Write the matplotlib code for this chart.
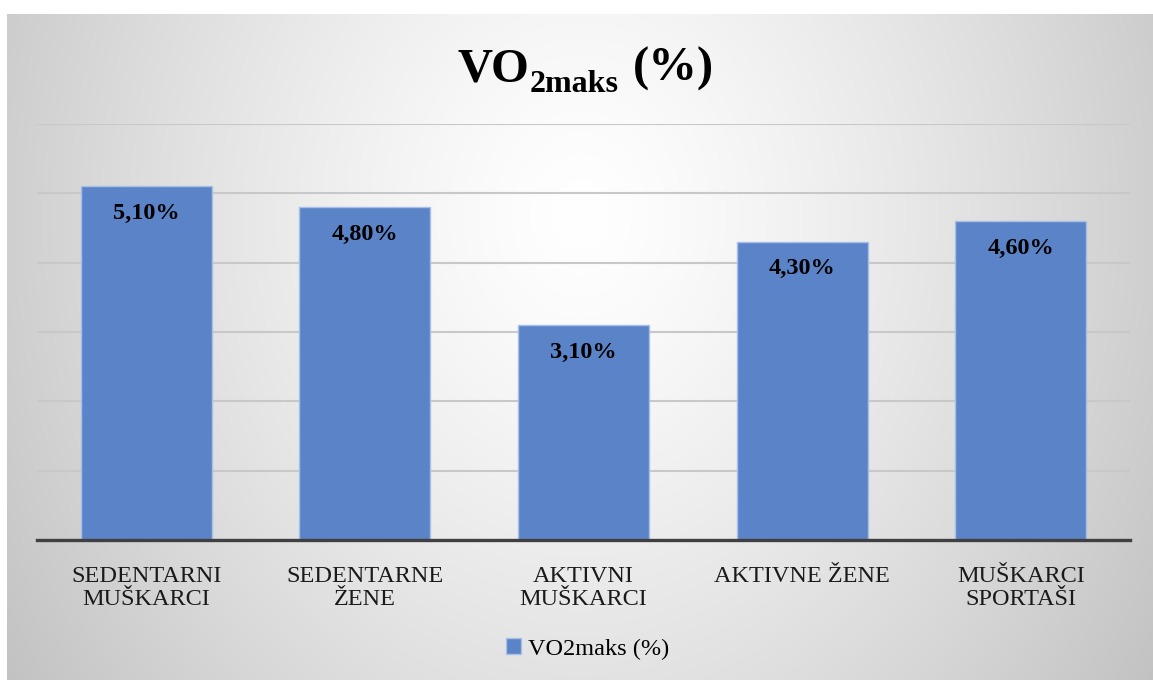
import numpy as np
import matplotlib
matplotlib.use("Agg")
import matplotlib.pyplot as plt

categories = ["SEDENTARNI\nMUŠKARCI", "SEDENTARNE\nŽENE", "AKTIVNI\nMUŠKARCI", "AKTIVNE ŽENE", "MUŠKARCI\nSPORTAŠI"]
values = [5.10, 4.80, 3.10, 4.30, 4.60]
value_labels = ["5,10%", "4,80%", "3,10%", "4,30%", "4,60%"]
series_name = "VO2maks (%)"

W, H = 1153, 680
fig = plt.figure(figsize=(W / 100, H / 100), dpi=100)
fig.patch.set_facecolor("white")

# gradient background panel
bx0, by0, bw, bh = 7, 14, 1146, 666
bg = fig.add_axes([bx0 / W, 0, bw / W, bh / H], zorder=-10)
yy, xx = np.mgrid[0:bh, 0:bw]
cx, cy = 573, 200
d = np.sqrt(((xx - cx) / 700.0) ** 2 + ((yy - cy) / 850.0) ** 2)
d = np.clip(d, 0, 1)
val = (255 - 62 * d ** 1.3) / 255.0
img = np.dstack([val, val, val])
bg.imshow(img, aspect="auto", extent=[0, bw, bh, 0], interpolation="bilinear")
bg.set_axis_off()

FONT = "Liberation Serif"

ax = fig.add_axes([37 / W, (H - 540) / H, 1093 / W, 416 / H])
ax.set_facecolor("none")
x = np.arange(len(categories))
bars = ax.bar(x, values, width=0.6, color="#5b84c8", edgecolor="#a8bfe6", linewidth=1.0, zorder=3,
              label=series_name)
ax.set_xlim(-0.5, len(categories) - 0.5)
ax.set_ylim(0, 6)
ax.set_yticks(np.arange(0, 7, 1))
ax.yaxis.grid(True, color="#c8c8c8", linewidth=1.5, zorder=0)
ax.tick_params(axis="y", left=False, labelleft=False)
ax.tick_params(axis="x", length=0, pad=19)
ax.set_xticks(x)
ax.set_xticklabels(categories, fontfamily=FONT, fontsize=17.5, color="#1a1a1a", linespacing=1.13)
for s in ["top", "right", "left"]:
    ax.spines[s].set_visible(False)
ax.spines["bottom"].set_color("#404040")
ax.spines["bottom"].set_linewidth(2.4)
ax.spines["bottom"].set_zorder(4)

for xi, v, lab in zip(x, values, value_labels):
    ax.annotate(lab, (xi, v), xytext=(0, -27), textcoords="offset pixels", ha="center", va="center",
                fontfamily=FONT, fontweight="bold", fontsize=17.5, color="black", zorder=5)

# title with subscript, built from pieces
fig.canvas.draw()
r = fig.canvas.get_renderer()
tx, ty = 457, H - 81
t1 = fig.text(tx / W, ty / H, "VO", fontfamily=FONT, fontweight="bold", fontsize=35, va="baseline", ha="left")
e1 = t1.get_window_extent(r)
t2 = fig.text((e1.x1 + 1) / W, (ty - 11) / H, "2maks", fontfamily=FONT, fontweight="bold", fontsize=23,
              va="baseline", ha="left")
e2 = t2.get_window_extent(r)
t3 = fig.text((e2.x1 + 14) / W, ty / H, "(%)", fontfamily=FONT, fontweight="bold", fontsize=35,
              va="baseline", ha="left")

leg = fig.legend(handles=[bars], labels=[series_name], loc="center", bbox_to_anchor=(588 / W, (H - 649) / H),
                 frameon=False, prop={"family": FONT, "size": 17.5}, handlelength=0.6, handleheight=0.6,
                 handletextpad=0.3)

fig.savefig("out.png", dpi=100)
